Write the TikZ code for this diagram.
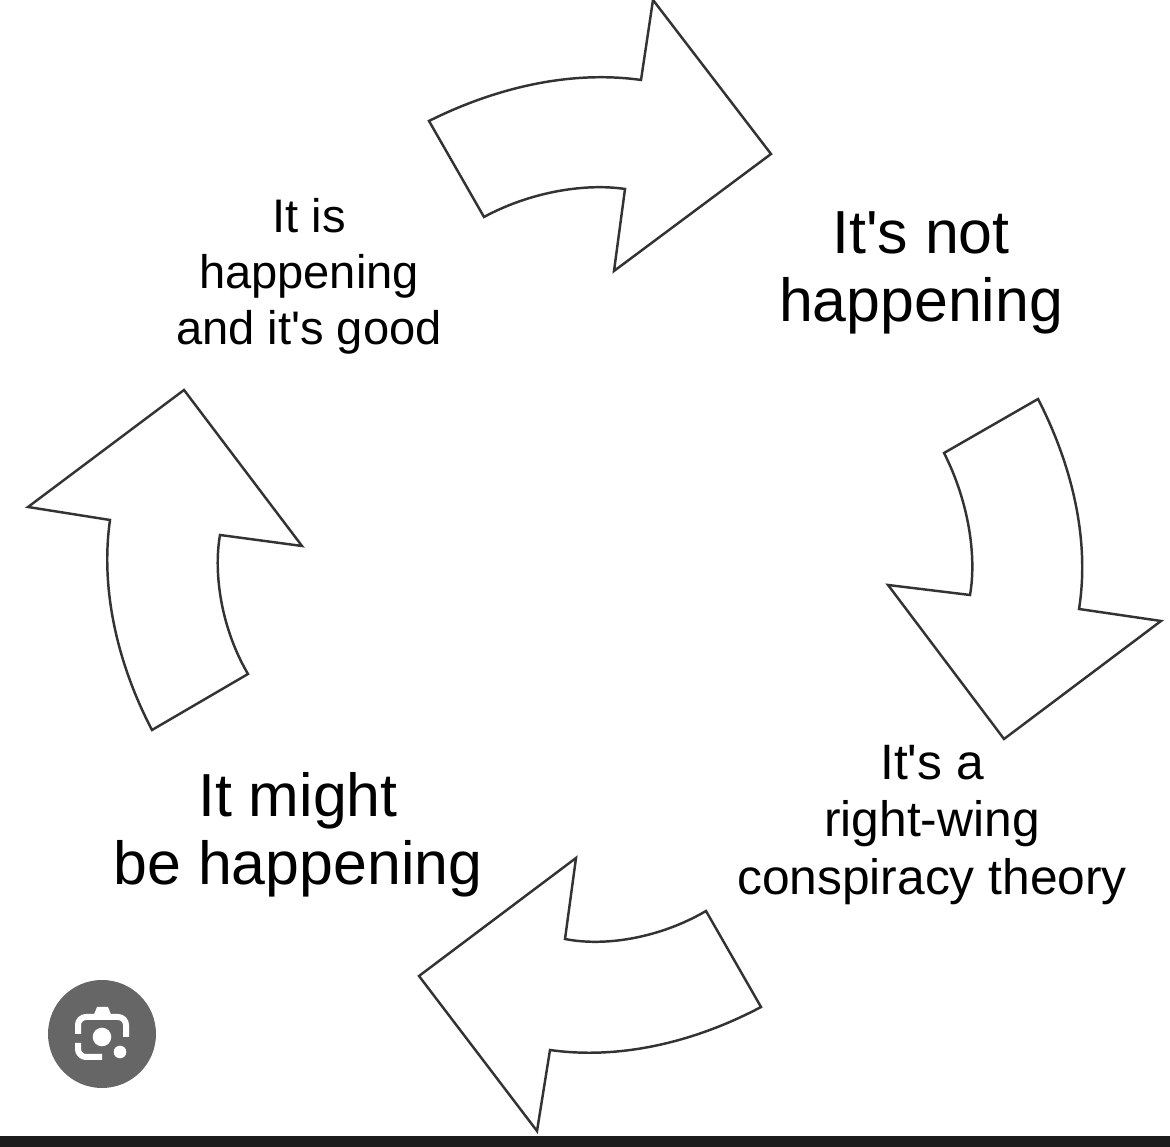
\documentclass[tikz,border=0pt]{standalone}
\usepackage{fontspec}
\setmainfont{Liberation Sans}
\definecolor{lensgray}{HTML}{666666}
\definecolor{barblack}{HTML}{1C1C1C}
\tikzset{
	cyclearrow/.style={line width=0.7pt, draw=black!80, line join=miter},
	biglabel/.style={align=center, inner sep=0pt, font=\fontsize{17.3pt}{19.3pt}\selectfont},
	smalllabel/.style={align=center, inner sep=0pt, font=\fontsize{13.4pt}{15.9pt}\selectfont},
	midlabel/.style={align=center, inner sep=0pt, font=\fontsize{14.15pt}{16.4pt}\selectfont},
	lensline/.style={line width=0.06cm, draw=white, rounded corners=0.08cm}
}
\begin{document}
\begin{tikzpicture}
	
		\useasboundingbox (0,0) rectangle (11.70,11.47);
		
		%draw top arrow
		\draw [cyclearrow]
		(4.29,10.26) .. controls (4.95,10.59) and (5.70,10.77) .. (6.41,10.67)
		-- (6.53,11.47) -- (7.71,9.93) -- (6.14,8.76) -- (6.25,9.58)
		.. controls (5.85,9.64) and (5.30,9.55) .. (4.84,9.30) -- cycle;
		
		%draw right arrow
		\draw [cyclearrow]
		(10.38,7.48) .. controls (10.72,6.82) and (10.90,6.07) .. (10.79,5.38)
		-- (11.61,5.26) -- (10.04,4.08) -- (8.88,5.62) -- (9.70,5.52)
		.. controls (9.77,5.92) and (9.68,6.47) .. (9.44,6.94) -- cycle;
		
		%draw bottom arrow
		\draw [cyclearrow]
		(7.61,1.40) .. controls (6.95,1.05) and (6.20,0.87) .. (5.50,0.97)
		-- (5.37,0.16) -- (4.19,1.71) -- (5.76,2.89) -- (5.65,2.08)
		.. controls (6.05,2.00) and (6.60,2.09) .. (7.06,2.36) -- cycle;
		
		%draw left arrow
		\draw [cyclearrow]
		(1.52,4.17) .. controls (1.18,4.82) and (1.00,5.57) .. (1.10,6.27)
		-- (0.28,6.40) -- (1.84,7.57) -- (3.02,6.01) -- (2.20,6.12)
		.. controls (2.13,5.72) and (2.22,5.17) .. (2.48,4.73) -- cycle;
		
		% labels
		\node[biglabel] (nothappening) at (9.21,8.74) {It\textquotesingle s not\\happening};
		\node[midlabel] (rightwing) at (9.32,3.22) {It\textquotesingle s a\\right-wing\\conspiracy theory};
		\node[biglabel] (mightbe) at (2.98,3.12) {It might\\be happening};
		\node[smalllabel] (itisgood) at (3.09,8.71) {It is\\happening\\and it\textquotesingle s good};
		
		% bottom bar
		\fill[barblack] (0,0) rectangle (11.70,0.11);
		
		% lens button
		\fill[lensgray] (1.02,1.13) circle (0.54);
		\draw[lensline] (0.78,1.13) -- (0.78,1.30) -- (1.26,1.30) -- (1.26,1.10);
		\draw[lensline] (0.78,1.04) -- (0.78,0.90) -- (1.02,0.90);
		\fill[white] (0.93,1.30) -- (0.97,1.40) -- (1.08,1.40) -- (1.12,1.30) -- cycle;
		\fill[white] (1.02,1.10) circle (0.093);
		\fill[white] (1.20,0.95) circle (0.063);
	
	\end{tikzpicture}
\end{document}
